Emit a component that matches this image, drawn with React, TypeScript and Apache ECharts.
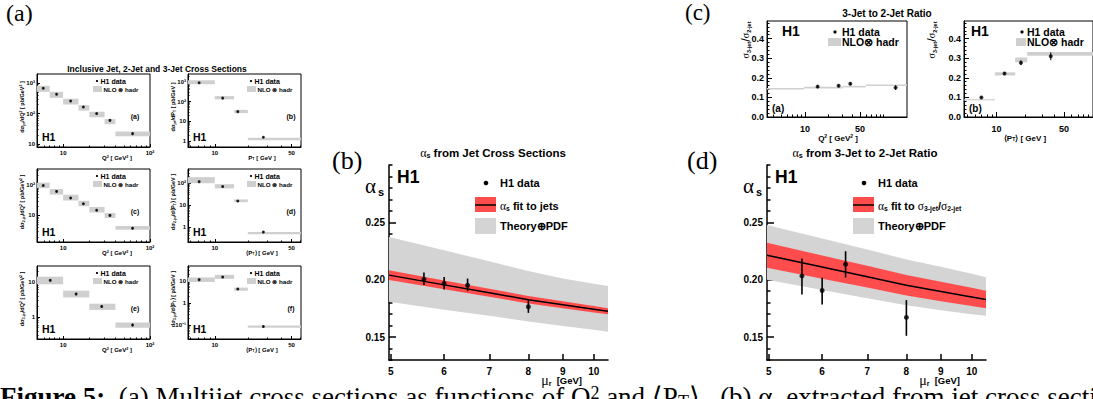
import React, { useEffect, useRef } from "react";
import * as echarts from "echarts";

const L = Math.log10;
const FONT = "'Liberation Sans', Arial, Helvetica, sans-serif";
const SERIF = "'Liberation Serif', 'Times New Roman', serif";

// ---------------- Panel (a): cross sections ----------------
const q2Edges7 = [5, 7, 10, 15, 20, 30, 40, 100];
const q2Mid7 = [5.9, 8.4, 12.2, 17.1, 24.3, 34.6, 63];
const jetQ2 = [680, 430, 260, 165, 100, 60, 22];
const jetQ2Err = [40, 25, 15, 10, 6, 4, 1.5];
const jetQ2NloLo = [520, 330, 200, 125, 76, 45, 18];
const jetQ2NloHi = [820, 520, 310, 190, 115, 66, 26];

const ptEdges = [5, 10, 15, 20, 80];
const ptMid = [7.2, 11.8, 16.2, 27.7];
const jetPt = [900, 150, 31, 1.55];
const jetPtErr = [60, 10, 2, 0.12];
const jetPtNloLo = [760, 130, 26, 1.1];
const jetPtNloHi = [1200, 190, 38, 1.45];

const dijetQ2 = [95, 61, 37, 24, 14.8, 10, 3.8];
const dijetQ2Err = [6, 4, 2.5, 1.6, 1, 0.7, 0.3];
const dijetQ2NloLo = [78, 48, 31, 20, 12.5, 8.2, 3.4];
const dijetQ2NloHi = [118, 73, 47, 30, 19, 12, 4.5];

const dijetPt = [118, 70, 15.2, 0.57];
const dijetPtErr = [8, 5, 1.1, 0.05];
const dijetPtNloLo = [100, 58, 13.5, 0.45];
const dijetPtNloHi = [190, 90, 18, 0.58];

const q2Edges4 = [5, 10, 20, 40, 100];
const q2Mid4 = [7.1, 14.1, 27.8, 63];
const trijetQ2 = [11, 4.5, 2.0, 0.6];
const trijetQ2Err = [0.9, 0.4, 0.18, 0.06];
const trijetQ2NloLo = [8.5, 3.6, 1.6, 0.5];
const trijetQ2NloHi = [14, 5.6, 2.4, 0.7];

const trijetPt = [11.5, 15, 4.3, 0.085];
const trijetPtErr = [1, 1.2, 0.4, 0.01];
const trijetPtNloLo = [9, 12.5, 3.6, 0.075];
const trijetPtNloHi = [14.5, 19, 5, 0.095];

// ---------------- Panel (c): 3-jet / 2-jet ratio ----------------
const ratioQ2Edges = [3.3, 9.7, 30.4, 59.5, 198];
const ratioQ2Mid = [14.5, 26.8, 37.7, 142];
const ratioQ2 = [0.155, 0.16, 0.17, 0.15];
const ratioQ2Err = [0.007, 0.006, 0.007, 0.012];
const ratioQ2NloLo = [0.14, 0.146, 0.151, 0.158];
const ratioQ2NloHi = [0.148, 0.154, 0.159, 0.166];

const ratioPtEdges = [4.6, 9.6, 15.6, 20.8, 100];
const ratioPtMid = [6.96, 12.1, 17.9, 36.5];
const ratioPt = [0.1, 0.222, 0.277, 0.31];
const ratioPtErr = [0.005, 0.006, 0.012, 0.02];
const ratioPtNloLo = [0.085, 0.212, 0.28, 0.312];
const ratioPtNloHi = [0.091, 0.228, 0.304, 0.332];

// ---------------- Panels (b) and (d): alpha_s(mu_r) ----------------
const muGrid = [4.97, 6, 7, 8, 9, 10, 10.5];
const jetFit = [0.204, 0.1955, 0.1887, 0.1825, 0.1782, 0.1743, 0.1725];
const jetFitLo = [0.1998, 0.1917, 0.1852, 0.1792, 0.1752, 0.1715, 0.1698];
const jetFitHi = [0.2082, 0.1993, 0.1922, 0.1858, 0.1812, 0.1771, 0.1752];
const jetThLo = [0.1807, 0.1738, 0.1686, 0.1636, 0.1597, 0.1563, 0.1546];
const jetThHi = [0.2372, 0.2257, 0.216, 0.2075, 0.201, 0.1965, 0.1946];
const jetMu = [5.6, 6.0, 6.5, 8.0];
const jetAs = [0.2004, 0.1967, 0.1952, 0.1764];
const jetAsLo = [0.1953, 0.1915, 0.19, 0.1711];
const jetAsHi = [0.2063, 0.2024, 0.201, 0.1822];

const ratioFit = [0.2213, 0.211, 0.2026, 0.1952, 0.1898, 0.185, 0.1828];
const ratioFitLo = [0.2104, 0.2008, 0.1931, 0.1862, 0.1813, 0.1771, 0.1752];
const ratioFitHi = [0.2322, 0.2212, 0.2121, 0.2042, 0.1983, 0.1929, 0.1904];
const ratioThLo = [0.1999, 0.191, 0.1839, 0.1777, 0.1734, 0.1699, 0.1685];
const ratioThHi = [0.2477, 0.236, 0.2263, 0.2177, 0.2112, 0.2051, 0.2021];
const ratioMu = [5.6, 6.0, 6.5, 8.0];
const ratioAs = [0.2033, 0.1906, 0.2135, 0.1671];
const ratioAsLo = [0.1871, 0.1784, 0.2019, 0.1511];
const ratioAsHi = [0.2184, 0.2016, 0.2248, 0.1822];

const muTicks = [5, 6, 7, 8, 9, 10];

// ---------------- helpers ----------------
const GRAY = "#cfcfcf";
const RED = "#ff4d4d";

function logMinors(min: number, max: number, majors: number[]) {
  const out: number[] = [];
  for (let d = Math.floor(L(min)) - 1; d <= Math.ceil(L(max)); d++) {
    for (let k = 1; k <= 9; k++) {
      const v = k * Math.pow(10, d);
      if (v > min && v < max && !majors.some((m) => Math.abs(L(m) - L(v)) < 1e-6)) out.push(L(v));
    }
  }
  return out;
}
function linMinors(min: number, max: number, step: number, majors: number[]) {
  const out: number[] = [];
  for (let v = Math.ceil(min / step - 1e-9) * step; v <= max + 1e-9; v += step) {
    const r = Math.round(v * 1000) / 1000;
    if (!majors.some((m) => Math.abs(m - r) < 1e-6)) out.push(r);
  }
  return out;
}

function axisPair(grid: number, dim: "x" | "y", min: number, max: number, majors: number[], labels: string[], minors: number[], o: any) {
  const pos = dim === "x" ? "bottom" : "left";
  const fmt = (v: number) => {
    const i = majors.findIndex((m) => Math.abs(m - v) < 1e-6);
    return i >= 0 ? labels[i] : "";
  };
  const lw = o.lw ?? 1;
  const major = {
    type: "value", gridIndex: grid, position: pos, min, max, scale: true,
    axisLine: { show: o.line !== false, onZero: false, lineStyle: { color: "#000", width: lw } },
    axisTick: { show: true, inside: true, length: o.major, customValues: majors, lineStyle: { color: "#000", width: lw } },
    axisLabel: { show: true, customValues: majors, formatter: fmt, color: "#000", fontSize: o.font, fontWeight: "bold", fontFamily: FONT, margin: o.margin },
    splitLine: { show: false },
  };
  const minor = {
    type: "value", gridIndex: grid, position: pos, min, max, scale: true,
    axisLine: { show: false, onZero: false },
    axisTick: { show: minors.length > 0, inside: true, length: o.minor, customValues: minors.length ? minors : [min], lineStyle: { color: "#000", width: lw } },
    axisLabel: { show: false },
    splitLine: { show: false },
  };
  return [major, minor];
}

function richStyles(size: number) {
  return {
    sub: { fontSize: Math.max(3, size * 0.62), fontWeight: "bold", fontFamily: FONT, fill: "#000", verticalAlign: "bottom" },
    sup: { fontSize: Math.max(3, size * 0.62), fontWeight: "bold", fontFamily: FONT, fill: "#000", verticalAlign: "top" },
    g: { fontSize: size * 1.05, fontFamily: SERIF, fill: "#000" },
  };
}

function txt(x: number, y: number, text: string, size: number, o: any = {}) {
  return {
    type: "text", x, y, silent: true, rotation: o.rot ?? 0, z: 100,
    style: {
      text, fill: "#000", fontSize: size, fontWeight: o.weight ?? "bold", fontFamily: o.family ?? FONT,
      align: o.align ?? "left", verticalAlign: "middle", rich: o.rich ?? richStyles(size),
    },
  };
}
function rect(x: number, y: number, w: number, h: number, fill: string) {
  return { type: "rect", silent: true, z: 100, shape: { x, y, width: w, height: h }, style: { fill } };
}
function dot(x: number, y: number, r: number) {
  return { type: "circle", silent: true, z: 100, shape: { cx: x, cy: y, r }, style: { fill: "#000" } };
}
function hline(x1: number, x2: number, y: number, w: number) {
  return { type: "line", silent: true, z: 101, shape: { x1, y1: y, x2, y2: y }, style: { stroke: "#000", lineWidth: w } };
}

function boxSeries(xi: number, yi: number, edges: number[], lo: number[], hi: number[], tx: (v: number) => number, ty: (v: number) => number, color: string) {
  return {
    type: "custom", xAxisIndex: xi, yAxisIndex: yi, silent: true, z: 2,
    data: lo.map((_, i) => [tx(edges[i]), tx(edges[i + 1]), ty(lo[i]), ty(hi[i])]),
    encode: { x: [0, 1], y: [2, 3] },
    renderItem: (params: any, api: any) => {
      const p = api.coord([api.value(0), api.value(3)]);
      const q = api.coord([api.value(1), api.value(2)]);
      const cs = params.coordSys;
      const r = echarts.graphic.clipRectByRect(
        { x: p[0], y: p[1], width: q[0] - p[0], height: q[1] - p[1] },
        { x: cs.x, y: cs.y, width: cs.width, height: cs.height }
      );
      return r ? { type: "rect", shape: r, style: { fill: color } } : null;
    },
  };
}
function errSeries(xi: number, yi: number, xs: number[], lo: number[], hi: number[], tx: (v: number) => number, ty: (v: number) => number, w: number) {
  return {
    type: "custom", xAxisIndex: xi, yAxisIndex: yi, silent: true, z: 4,
    data: xs.map((x, i) => [tx(x), ty(lo[i]), ty(hi[i])]),
    encode: { x: 0, y: [1, 2] },
    renderItem: (params: any, api: any) => {
      const a = api.coord([api.value(0), api.value(1)]);
      const b = api.coord([api.value(0), api.value(2)]);
      return { type: "line", shape: { x1: a[0], y1: a[1], x2: b[0], y2: b[1] }, style: { stroke: "#000", lineWidth: w } };
    },
  };
}
function pointSeries(xi: number, yi: number, xs: number[], ys: number[], tx: (v: number) => number, ty: (v: number) => number, size: number) {
  return {
    type: "scatter", xAxisIndex: xi, yAxisIndex: yi, silent: true, z: 5, symbol: "circle", symbolSize: size,
    itemStyle: { color: "#000" }, data: xs.map((x, i) => [tx(x), ty(ys[i])]),
  };
}
function bandSeries(xi: number, yi: number, xs: number[], lo: number[], hi: number[], color: string, z: number) {
  return {
    type: "custom", xAxisIndex: xi, yAxisIndex: yi, silent: true, z,
    data: xs.map((x, i) => [L(x), lo[i], hi[i]]),
    encode: { x: 0, y: [1, 2] },
    renderItem: (params: any, api: any) => {
      if (params.dataIndex !== 0) return null;
      const top = xs.map((x, i) => api.coord([L(x), hi[i]]));
      const bot = xs.map((x, i) => api.coord([L(x), lo[i]])).reverse();
      return { type: "polygon", shape: { points: top.concat(bot) }, style: { fill: color } };
    },
  };
}

function buildOption() {
  const grid: any[] = [];
  const xAxis: any[] = [];
  const yAxis: any[] = [];
  const series: any[] = [];
  const g: any[] = [];
  const addGrid = (left: number, top: number, width: number, height: number, frame: boolean) => {
    grid.push({ left, top, width, height, show: frame, borderColor: "#000", borderWidth: 1, backgroundColor: "transparent" });
    return grid.length - 1;
  };
  const addX = (pair: any[]) => { xAxis.push(pair[0], pair[1]); return xAxis.length - 2; };
  const addY = (pair: any[]) => { yAxis.push(pair[0], pair[1]); return yAxis.length - 2; };
  const id = (v: number) => v;

  // ---------- Panel (a) ----------
  const rowsTop = [74, 169, 266];
  const colsLeft = [37, 188];
  const W = 113, H = 73;
  const q2Range = [5, 100];
  const ptRange = [5.7, 61];
  const aPanels = [
    { r: 0, c: 0, xs: q2Mid7, edges: q2Edges7, v: jetQ2, e: jetQ2Err, lo: jetQ2NloLo, hi: jetQ2NloHi, yr: [8, 2000], ym: [10, 100, 1000], yl: ["10", "10²", "10³"], tag: "(a)",
      yt: "dσ{sub|jet}/dQ{sup|2} [ pb/GeV{sup|2} ]" },
    { r: 0, c: 1, xs: ptMid, edges: ptEdges, v: jetPt, e: jetPtErr, lo: jetPtNloLo, hi: jetPtNloHi, yr: [0.5, 2500], ym: [1, 10, 100, 1000], yl: ["1", "10", "10²", "10³"], tag: "(b)",
      yt: "dσ{sub|jet}/dP{sub|T} [ pb/GeV ]" },
    { r: 1, c: 0, xs: q2Mid7, edges: q2Edges7, v: dijetQ2, e: dijetQ2Err, lo: dijetQ2NloLo, hi: dijetQ2NloHi, yr: [1.35, 330], ym: [10, 100], yl: ["10", "10²"], tag: "(c)",
      yt: "dσ{sub|2-jet}/dQ{sup|2} [ pb/GeV{sup|2} ]" },
    { r: 1, c: 1, xs: ptMid, edges: ptEdges, v: dijetPt, e: dijetPtErr, lo: dijetPtNloLo, hi: dijetPtNloHi, yr: [0.2, 450], ym: [1, 10, 100], yl: ["1", "10", "10²"], tag: "(d)",
      yt: "dσ{sub|2-jet}/d⟨P{sub|T}⟩ [ pb/GeV ]" },
    { r: 2, c: 0, xs: q2Mid4, edges: q2Edges4, v: trijetQ2, e: trijetQ2Err, lo: trijetQ2NloLo, hi: trijetQ2NloHi, yr: [0.24, 28], ym: [1, 10], yl: ["1", "10"], tag: "(e)",
      yt: "dσ{sub|3-jet}/dQ{sup|2} [ pb/GeV{sup|2} ]" },
    { r: 2, c: 1, xs: ptMid, edges: ptEdges, v: trijetPt, e: trijetPtErr, lo: trijetPtNloLo, hi: trijetPtNloHi, yr: [0.023, 48], ym: [0.1, 1, 10], yl: ["10⁻¹", "1", "10"], tag: "(f)",
      yt: "dσ{sub|3-jet}/d⟨P{sub|T}⟩ [ pb/GeV ]" },
  ];
  g.push(txt(157, 69, "Inclusive Jet, 2-Jet and 3-Jet Cross Sections", 8.5, { align: "center" }));
  g.push(txt(6, 13, "(a)", 24, { weight: "normal", family: SERIF }));
  for (const p of aPanels) {
    const gl = colsLeft[p.c], gt = rowsTop[p.r];
    const gi = addGrid(gl, gt, W, H, true);
    const xr = p.c === 0 ? q2Range : ptRange;
    const xm = p.c === 0 ? [10, 100] : [10, 50];
    const xl = p.c === 0 ? ["10", "10²"] : ["10", "50"];
    const xi = addX(axisPair(gi, "x", L(xr[0]), L(xr[1]), xm.map(L), xl, logMinors(xr[0], xr[1], xm), { font: 6, major: 3, minor: 1.5, margin: 3 }));
    const yi = addY(axisPair(gi, "y", L(p.yr[0]), L(p.yr[1]), p.ym.map(L), p.yl, logMinors(p.yr[0], p.yr[1], p.ym), { font: 6, major: 3, minor: 1.5, margin: 2 }));
    series.push(boxSeries(xi, yi, p.edges, p.lo, p.hi, L, L, GRAY));
    series.push(errSeries(xi, yi, p.xs, p.v.map((v, i) => v - p.e[i]), p.v.map((v, i) => v + p.e[i]), L, L, 0.8));
    series.push(pointSeries(xi, yi, p.xs, p.v, L, L, 3));
    const lx = p.c === 0 ? 60 : 63;
    g.push(dot(gl + lx, gt + 7, 1.1));
    g.push(txt(gl + lx + 3.5, gt + 7, "H1 data", 7));
    g.push(rect(gl + lx - 4, gt + 12, 9, 6, GRAY));
    g.push(txt(gl + lx + 6.5, gt + 15, "NLO ⊗ hadr", 6.2));
    g.push(txt(gl + (p.c === 0 ? 98 : 103), gt + 42, p.tag, 7, { align: "center" }));
    g.push(txt(gl + 5, gt + 63, "H1", 10.5));
    g.push(txt(gl - 15, gt + 33, p.yt, 5.5, { align: "center", rot: Math.PI / 2 }));
    if (p.c === 0) g.push(txt(gl + 80, gt + H + 11, "Q{sup|2} [ GeV{sup|2} ]", 6, { align: "center" }));
    else g.push(txt(gl + 74, gt + H + 11, p.r === 0 ? "P{sub|T} [ GeV ]" : "⟨P{sub|T}⟩ [ GeV ]", 6, { align: "center" }));
  }

  // ---------- Panel (c) ----------
  g.push(txt(685, 12, "(c)", 23, { weight: "normal", family: SERIF }));
  g.push(txt(887, 13, "3-Jet to 2-Jet Ratio", 10, { align: "center" }));
  const cPanels = [
    { left: 767, width: 140, xr: [3.3, 198], xs: ratioQ2Mid, edges: ratioQ2Edges, v: ratioQ2, e: ratioQ2Err, lo: ratioQ2NloLo, hi: ratioQ2NloHi, tag: "(a)",
      xt: "Q{sup|2} [ GeV{sup|2} ]", xtx: 838, dotx: 835, textx: 842, boxx: 828, h1x: 782, ytx: 745 },
    { left: 964, width: 130, xr: [4.6, 100], xs: ratioPtMid, edges: ratioPtEdges, v: ratioPt, e: ratioPtErr, lo: ratioPtNloLo, hi: ratioPtNloHi, tag: "(b)",
      xt: "⟨P{sub|T}⟩ [ GeV ]", xtx: 1025, dotx: 1022, textx: 1027, boxx: 1016, h1x: 971, ytx: 931 },
  ];
  const cYm = [0, 0.1, 0.2, 0.3, 0.4];
  for (const p of cPanels) {
    const gi = addGrid(p.left, 21, p.width, 96, true);
    const xi = addX(axisPair(gi, "x", L(p.xr[0]), L(p.xr[1]), [10, 50].map(L), ["10", "50"], logMinors(p.xr[0], p.xr[1], [10, 50]), { font: 9, major: 5, minor: 2.5, margin: 7 }));
    const yi = addY(axisPair(gi, "y", 0, 0.49, cYm, ["0.0", "0.1", "0.2", "0.3", "0.4"], linMinors(0, 0.48, 0.02, cYm), { font: 9, major: 5, minor: 2.5, margin: 3 }));
    series.push(boxSeries(xi, yi, p.edges, p.lo, p.hi, L, id, GRAY));
    series.push(errSeries(xi, yi, p.xs, p.v.map((v, i) => v - p.e[i]), p.v.map((v, i) => v + p.e[i]), L, id, 1));
    series.push(pointSeries(xi, yi, p.xs, p.v, L, id, 4));
    g.push(txt(p.h1x, 31, "H1", 14));
    g.push(dot(p.dotx, 32, 1.6));
    g.push(txt(p.textx, 32, "H1 data", 10.5));
    g.push(rect(p.boxx, 38, p.textx - p.boxx - 1, 8, GRAY));
    g.push(txt(p.textx, 42, "NLO⊗ hadr", 10.5));
    g.push(txt(p.left + 5, 108, p.tag, 10));
    g.push(txt(p.xtx, 138, p.xt, 8, { align: "center" }));
    g.push(txt(p.ytx, 40, "σ{sub|3-jet}{sl|/}σ{sub|2-jet}", 10, { align: "center", rot: Math.PI / 2, weight: "normal", family: SERIF,
      rich: { sub: { fontSize: 5.5, fontWeight: "bold", fontFamily: FONT, fill: "#000", verticalAlign: "bottom" }, sl: { fontSize: 13, fontFamily: FONT, fill: "#000" } } }));
  }

  // ---------- Panels (b) and (d) ----------
  const mPanels = [
    { left: 389, tag: "(b)", tagx: 332, title: "{g|α}{sub|s} from Jet Cross Sections", titlex: 493, fit: jetFit, flo: jetFitLo, fhi: jetFitHi, tlo: jetThLo, thi: jetThHi,
      mu: jetMu, as: jetAs, alo: jetAsLo, ahi: jetAsHi, leg: "{g|α}{sub|s} fit to jets" },
    { left: 767, tag: "(d)", tagx: 687, title: "{g|α}{sub|s} from 3-Jet to 2-Jet Ratio", titlex: 865, fit: ratioFit, flo: ratioFitLo, fhi: ratioFitHi, tlo: ratioThLo, thi: ratioThHi,
      mu: ratioMu, as: ratioAs, alo: ratioAsLo, ahi: ratioAsHi, leg: "{g|α}{sub|s} fit to {g|σ}{sub|3-jet}/{g|σ}{sub|2-jet}" },
  ];
  const mYm = [0.15, 0.2, 0.25];
  for (const p of mPanels) {
    const gi = addGrid(p.left, 165, 219, 195, false);
    const xi = addX(axisPair(gi, "x", L(4.97), L(10.5), muTicks.map(L), muTicks.map(String), [], { font: 10, major: 6, minor: 3, margin: 6, lw: 1.5 }));
    const yi = addY(axisPair(gi, "y", 0.13, 0.3, mYm, ["0.15", "0.20", "0.25"], linMinors(0.13, 0.3, 0.01, mYm), { font: 10, major: 7, minor: 3.5, margin: 4, lw: 1.5 }));
    series.push(bandSeries(xi, yi, muGrid, p.tlo, p.thi, "#d4d4d4", 1));
    series.push(bandSeries(xi, yi, muGrid, p.flo, p.fhi, RED, 2));
    series.push({
      type: "line", xAxisIndex: xi, yAxisIndex: yi, silent: true, z: 3, showSymbol: false, symbol: "none",
      lineStyle: { color: "#000", width: 1.5 }, data: muGrid.map((m, i) => [L(m), p.fit[i]]),
    });
    series.push(errSeries(xi, yi, p.mu, p.alo, p.ahi, L, id, 1.6));
    series.push(pointSeries(xi, yi, p.mu, p.as, L, id, 5));
    const ox = p.left - 389;
    g.push(txt(p.tagx, 160, p.tag, 26, { weight: "normal", family: SERIF }));
    g.push(txt(p.titlex, 153, p.title, 11.5, { align: "center" }));
    g.push(txt(365 + ox, 186, "α", 21, { weight: "normal", family: SERIF }));
    g.push(txt(378 + ox, 192, "s", 11));
    g.push(txt(397 + ox, 177, "H1", 17.5));
    g.push(dot(486 + ox, 183, 2.3));
    g.push(txt(500 + ox, 183, "H1 data", 11));
    g.push(rect(475 + ox, 197, 21, 15, RED));
    g.push(hline(475 + ox, 496 + ox, 205, 1.5));
    g.push(txt(500 + ox, 206, p.leg, 11));
    g.push(rect(475 + ox, 218, 21, 16, "#d4d4d4"));
    g.push(txt(500 + ox, 226, "Theory⊕PDF", 11));
    g.push(txt(582 + ox, 380, "{mu|μ}{sub|r}  [GeV]", 9.5, { align: "right",
      rich: { mu: { fontSize: 14, fontFamily: SERIF, fill: "#000" }, sub: { fontSize: 7, fontWeight: "bold", fontFamily: FONT, fill: "#000", verticalAlign: "bottom" } } }));
  }

  // ---------- caption (cut by the bottom edge, as in the reference) ----------
  g.push(txt(0, 397, "{b|Figure 5:}  (a) Multijet cross sections as functions of Q{sup|2} and ⟨P{sub|T}⟩,  (b) α{sub|s} extracted from jet cross sections", 27, {
    weight: "normal", family: SERIF,
    rich: {
      b: { fontSize: 27, fontWeight: "bold", fontFamily: SERIF, fill: "#000" },
      sup: { fontSize: 18, fontFamily: SERIF, fill: "#000", verticalAlign: "top" },
      sub: { fontSize: 18, fontFamily: SERIF, fill: "#000", verticalAlign: "bottom" },
    },
  }));

  return { animation: false, backgroundColor: "#fff", grid, xAxis, yAxis, series, graphic: { elements: g } };
}

export default function App() {
  const ref = useRef<HTMLDivElement>(null);
  useEffect(() => {
    document.body.style.margin = "0";
    const chart = echarts.init(ref.current!, undefined, { renderer: "svg", width: 1093, height: 399 });
    chart.setOption(buildOption() as any);
    return () => chart.dispose();
  }, []);
  return <div ref={ref} style={{ width: 1093, height: 399, overflow: "hidden" }} />;
}
